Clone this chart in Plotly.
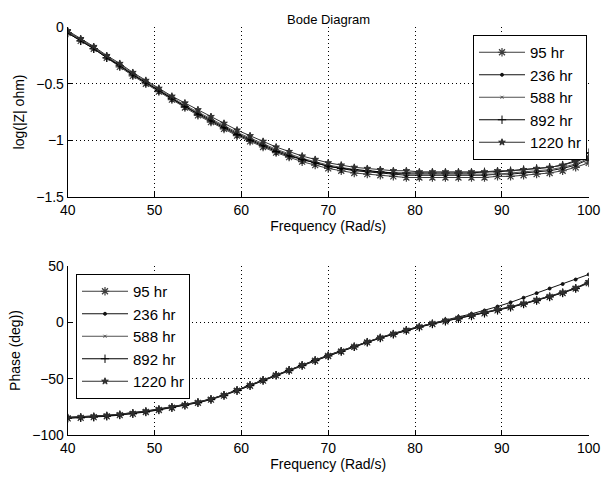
import plotly.graph_objects as go

freq = [40 + 1.5 * i for i in range(41)]

labels = ["95 hr", "236 hr", "588 hr", "892 hr", "1220 hr"]

mag_95 = [-0.05,-0.12,-0.19,-0.27,-0.35,-0.43,-0.50,-0.57,-0.64,-0.71,-0.78,-0.84,-0.90,-0.96,-1.01,-1.06,-1.11,-1.15,-1.19,-1.22,-1.25,-1.27,-1.29,-1.30,-1.31,-1.32,-1.33,-1.33,-1.33,-1.33,-1.33,-1.33,-1.33,-1.32,-1.32,-1.31,-1.30,-1.29,-1.27,-1.24,-1.20]
mag_236 = [-0.04,-0.11,-0.18,-0.26,-0.34,-0.42,-0.49,-0.56,-0.63,-0.70,-0.76,-0.82,-0.88,-0.94,-0.99,-1.04,-1.09,-1.13,-1.17,-1.20,-1.23,-1.25,-1.27,-1.28,-1.29,-1.30,-1.31,-1.31,-1.31,-1.31,-1.31,-1.31,-1.31,-1.30,-1.30,-1.29,-1.28,-1.27,-1.25,-1.22,-1.17]
mag_588 = [-0.04,-0.11,-0.18,-0.26,-0.33,-0.41,-0.48,-0.55,-0.62,-0.69,-0.75,-0.81,-0.87,-0.93,-0.98,-1.03,-1.08,-1.12,-1.16,-1.19,-1.22,-1.24,-1.26,-1.27,-1.28,-1.29,-1.30,-1.30,-1.30,-1.30,-1.30,-1.30,-1.30,-1.30,-1.29,-1.28,-1.27,-1.26,-1.24,-1.21,-1.16]
mag_892 = [-0.05,-0.12,-0.19,-0.27,-0.34,-0.42,-0.49,-0.56,-0.63,-0.70,-0.77,-0.83,-0.89,-0.95,-1.00,-1.05,-1.10,-1.14,-1.17,-1.20,-1.23,-1.25,-1.26,-1.27,-1.28,-1.29,-1.29,-1.29,-1.29,-1.29,-1.29,-1.29,-1.28,-1.28,-1.27,-1.26,-1.25,-1.24,-1.22,-1.18,-1.11]
mag_1220 = [-0.03,-0.10,-0.17,-0.25,-0.32,-0.40,-0.47,-0.54,-0.61,-0.67,-0.73,-0.79,-0.85,-0.91,-0.96,-1.01,-1.06,-1.10,-1.14,-1.17,-1.20,-1.22,-1.24,-1.25,-1.26,-1.27,-1.27,-1.28,-1.28,-1.28,-1.28,-1.28,-1.28,-1.27,-1.27,-1.26,-1.25,-1.24,-1.22,-1.19,-1.15]

ph_95 = [-85.2,-84.8,-84.2,-83.4,-82.4,-81.2,-79.6,-77.8,-75.8,-73.7,-71.4,-68.6,-65.0,-60.7,-56.3,-51.7,-47.1,-42.8,-38.4,-34.1,-29.9,-25.9,-21.8,-17.8,-14.0,-10.6,-7.3,-4.3,-1.5,0.9,3.1,5.5,8.0,10.6,13.3,16.2,19.3,22.5,26.0,30.0,34.8]
ph_236 = [-84.3,-83.9,-83.3,-82.5,-81.5,-80.3,-78.7,-76.9,-74.9,-72.9,-70.7,-67.9,-64.3,-60.0,-55.6,-51.0,-46.3,-42.0,-37.6,-33.3,-29.1,-25.1,-21.2,-17.1,-13.3,-9.9,-6.6,-3.6,-0.8,2.2,4.8,7.5,10.5,14.0,17.7,21.8,25.9,30.0,34.0,38.0,42.5]
ph_588 = [-84.6,-84.2,-83.6,-82.8,-81.8,-80.6,-79.0,-77.2,-75.2,-73.2,-71.0,-68.2,-64.6,-60.2,-55.8,-51.2,-46.6,-42.4,-38.0,-33.7,-29.5,-25.5,-21.5,-17.4,-13.6,-10.2,-6.9,-3.9,-1.1,1.3,3.5,5.9,8.4,11.0,13.7,16.6,19.7,22.9,26.4,30.4,35.2]
ph_892 = [-84.9,-84.5,-83.9,-83.1,-82.1,-80.9,-79.3,-77.5,-75.5,-73.5,-71.2,-68.4,-64.8,-60.5,-56.1,-51.5,-46.9,-42.6,-38.2,-33.9,-29.7,-25.7,-21.7,-17.6,-13.8,-10.4,-7.1,-4.1,-1.3,1.1,3.3,5.7,8.2,10.8,13.5,16.4,19.5,22.7,26.2,30.2,35.6]
ph_1220 = [-84.4,-84.0,-83.4,-82.6,-81.6,-80.4,-78.8,-77.0,-75.0,-73.0,-70.8,-68.0,-64.4,-60.0,-55.6,-51.0,-46.4,-42.2,-37.8,-33.5,-29.3,-25.3,-21.3,-17.2,-13.4,-10.0,-6.7,-3.7,-0.9,1.5,3.7,6.1,8.6,11.2,13.9,16.8,19.9,23.1,26.6,30.6,36.0]

x_ticks = [40, 50, 60, 70, 80, 90, 100]
mag_ticks = [-1.5, -1, -0.5, 0]
ph_ticks = [-100, -50, 0, 50]

mags = [mag_95, mag_236, mag_588, mag_892, mag_1220]
phs = [ph_95, ph_236, ph_588, ph_892, ph_1220]

colors = ["#3c3c3c", "#111111", "#505050", "#000000", "#2e2e2e"]
symbols = ["asterisk-open", "circle", "x-thin-open", "cross-thin-open", "star"]
sizes = [7, 3, 3, 6, 5]
lw = [1.2, 1, 1, 1, 1]

FONT = "Liberation Sans, Arial, sans-serif"

fig = go.Figure()
for i in range(5):
    fig.add_trace(go.Scatter(
        x=freq, y=mags[i], name=labels[i], mode="lines+markers",
        line=dict(color=colors[i], width=1),
        marker=dict(symbol=symbols[i], size=sizes[i], color=colors[i],
                    line=dict(color=colors[i], width=lw[i])),
        xaxis="x", yaxis="y", legend="legend", legendgroup="a%d" % i))
for i in range(5):
    fig.add_trace(go.Scatter(
        x=freq, y=phs[i], name=labels[i], mode="lines+markers",
        line=dict(color=colors[i], width=1),
        marker=dict(symbol=symbols[i], size=sizes[i], color=colors[i],
                    line=dict(color=colors[i], width=lw[i])),
        xaxis="x2", yaxis="y2", legend="legend2", legendgroup="b%d" % i))

W, H = 603, 482
xd = [67.7 / W, 588.7 / W]
top_y = [1 - 196.7 / H, 1 - 27.3 / H]
bot_y = [1 - 435 / H, 1 - 266 / H]

axis_common = dict(
    showline=True, linecolor="black", linewidth=1, mirror=False,
    ticks="inside", ticklen=5, tickcolor="black", tickwidth=1,
    showgrid=True, gridcolor="#000000", gridwidth=1, griddash="1px,3px",
    zeroline=False, automargin=False,
    tickfont=dict(family=FONT, size=14, color="black"),
    title_font=dict(family=FONT, size=14, color="black"),
)

fig.update_layout(
    width=W, height=H, margin=dict(l=0, r=0, t=0, b=0, autoexpand=False),
    paper_bgcolor="white", plot_bgcolor="white",
    font=dict(family=FONT, size=14, color="black"),
    xaxis=dict(domain=xd, range=[40, 100], anchor="y", tickvals=x_ticks,
               title=dict(text="Frequency (Rad/s)", standoff=4), **axis_common),
    yaxis=dict(domain=top_y, range=[-1.5, 0], anchor="x", tickvals=mag_ticks,
               ticktext=["\u22121.5", "\u22121", "\u22120.5", "0"],
               title=dict(text="log(|Z| ohm)", standoff=8), **axis_common),
    xaxis2=dict(domain=xd, range=[40, 100], anchor="y2", tickvals=x_ticks,
                title=dict(text="Frequency (Rad/s)", standoff=4), **axis_common),
    yaxis2=dict(domain=bot_y, range=[-100, 50], anchor="x2", tickvals=ph_ticks,
                ticktext=["\u2212100", "\u221250", "0", "50"],
                title=dict(text="Phase (deg))", standoff=8), **axis_common),
    legend=dict(x=587 / W, y=1 - 35 / H, xanchor="right", yanchor="top",
                bgcolor="white", bordercolor="black", borderwidth=1,
                font=dict(family=FONT, size=15, color="black"),
                tracegroupgap=0, itemwidth=46, entrywidth=125),
    legend2=dict(x=76 / W, y=1 - 274 / H, xanchor="left", yanchor="top",
                 bgcolor="white", bordercolor="black", borderwidth=1,
                 font=dict(family=FONT, size=15, color="black"),
                 tracegroupgap=0, itemwidth=46, entrywidth=120),
    annotations=[dict(text="Bode Diagram", x=(xd[0] + xd[1]) / 2, y=1 - 10 / H,
                      xref="paper", yref="paper", showarrow=False,
                      font=dict(family=FONT, size=13, color="black"))],
    showlegend=True,
)

fig.write_html("out.html")
